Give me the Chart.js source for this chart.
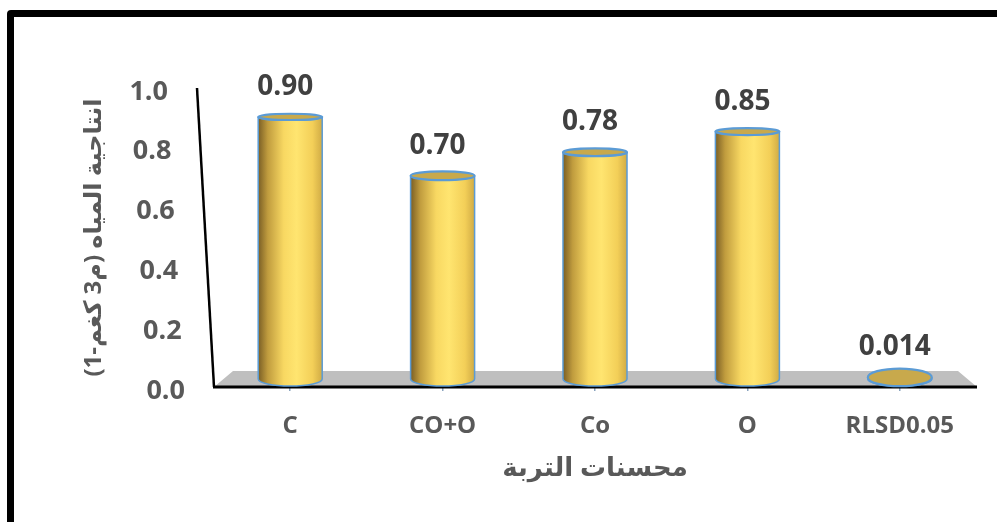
<!DOCTYPE html>
<html><head><meta charset="utf-8">
<script src="https://cdn.jsdelivr.net/npm/chart.js@4/dist/chart.umd.min.js"></script>
<style>
html,body{margin:0;padding:0;background:#fff;overflow:hidden}
#frame{position:absolute;left:7px;top:10px;width:1100px;height:700px;border:7px solid #000;border-radius:4px;box-sizing:border-box}
#wrap{position:absolute;left:0;top:0;width:997px;height:522px}
</style></head><body>
<div id="frame"></div>
<div id="wrap"><canvas id="c" width="997" height="522"></canvas></div>
<script>
const categories = ['C', 'CO+O', 'Co', 'O', 'RLSD0.05'];
const values = [0.90, 0.70, 0.78, 0.85, 0.014];
const yTicks = [0, 0.2, 0.4, 0.6, 0.8, 1.0];
const yTitle = 'انتاجية المياه (م3 كغم-1)';
const xTitle = 'محسنات التربة';

const FONT = "'Open Sans', 'DejaVu Sans', sans-serif";
const SLANT = 17;

function fmt(v) { return v >= 0.1 ? v.toFixed(2) : v.toFixed(3); }

const cylPlugin = {
  id: 'cyl',
  beforeDatasetsDraw(chart) {
    const ctx = chart.ctx;
    const { left, right, top, bottom } = chart.chartArea;
    const ys = chart.scales.y;
    ctx.save();
    ctx.fillStyle = '#bfbfbf';
    ctx.beginPath();
    ctx.moveTo(left, bottom);
    ctx.lineTo(right + 1, bottom);
    ctx.lineTo(right - 18, bottom - 16);
    ctx.lineTo(left + 19, bottom - 16);
    ctx.closePath();
    ctx.fill();
    ctx.strokeStyle = '#000';
    ctx.lineWidth = 3;
    ctx.beginPath();
    ctx.moveTo(left - 1, bottom);
    ctx.lineTo(right + 1, bottom);
    ctx.stroke();
    ctx.lineWidth = 2.5;
    ctx.beginPath();
    ctx.moveTo(left - SLANT, top);
    ctx.lineTo(left, bottom);
    ctx.stroke();
    ctx.fillStyle = '#595959';
    ctx.font = 'bold 27px ' + FONT;
    ctx.textAlign = 'right';
    ctx.textBaseline = 'middle';
    ys.ticks.forEach(t => {
      const py = ys.getPixelForValue(t.value);
      const ax = left - SLANT * (bottom - py) / (bottom - top);
      ctx.fillText(t.value.toFixed(1), ax - 29, py + 4);
    });
    ctx.restore();
  },
  afterDatasetsDraw(chart) {
    const ctx = chart.ctx;
    const { top, bottom } = chart.chartArea;
    const meta = chart.getDatasetMeta(0);
    ctx.save();
    meta.data.forEach((bar, i) => {
      const x = bar.x, y = bar.y, base = bar.base;
      const rx = bar.width / 2;
      const cyTop = y - 5.5 + 0.0167 * (base - y);
      const cyBot = Math.max(base - 8, cyTop);
      const ryTop = 2.5 + 6.5 * (cyTop - top) / (bottom - top);
      const ryBot = 7;
      const g = ctx.createLinearGradient(x - rx, 0, x + rx, 0);
      g.addColorStop(0, '#7a5e25');
      g.addColorStop(0.15, '#c09c3e');
      g.addColorStop(0.4, '#f8d862');
      g.addColorStop(0.6, '#ffe570');
      g.addColorStop(0.85, '#f3cf58');
      g.addColorStop(1, '#d0ab45');
      ctx.beginPath();
      ctx.moveTo(x - rx, cyTop);
      ctx.lineTo(x - rx, cyBot);
      ctx.ellipse(x, cyBot, rx, ryBot, 0, Math.PI, 0, true);
      ctx.lineTo(x + rx, cyTop);
      ctx.ellipse(x, cyTop, rx, ryTop, 0, 0, Math.PI, false);
      ctx.closePath();
      ctx.fillStyle = g;
      ctx.fill();
      ctx.strokeStyle = '#5b9bd5';
      ctx.lineWidth = 1.5;
      ctx.stroke();
      ctx.beginPath();
      ctx.ellipse(x, cyTop, rx, ryTop, 0, 0, Math.PI * 2);
      ctx.fillStyle = '#c8a94c';
      ctx.fill();
      ctx.lineWidth = 2.2;
      ctx.strokeStyle = '#5b9bd5';
      ctx.stroke();
      ctx.fillStyle = '#404040';
      ctx.font = 'bold 28px ' + FONT;
      ctx.textAlign = 'center';
      ctx.textBaseline = 'middle';
      ctx.fillText(fmt(values[i]), x - 5, cyTop - 30);
    });
    ctx.restore();
  }
};

new Chart(document.getElementById('c'), {
  type: 'bar',
  data: {
    labels: categories,
    datasets: [{
      data: values,
      backgroundColor: 'rgba(0,0,0,0)',
      borderWidth: 0,
      categoryPercentage: 1,
      barPercentage: 0.42
    }]
  },
  options: {
    responsive: false,
    devicePixelRatio: 1,
    animation: false,
    layout: { padding: { left: 80, right: 21, top: 88, bottom: 38 } },
    plugins: { legend: { display: false }, tooltip: { enabled: false } },
    scales: {
      x: {
        grid: { display: true, drawOnChartArea: false, drawTicks: true, tickLength: 4, offset: false, color: '#8aa4bf', lineWidth: 1.5 },
        border: { display: false },
        ticks: { color: '#595959', font: { family: FONT, size: 24, weight: 'bold' }, padding: 21, maxRotation: 0 },
        title: { display: true, text: xTitle, color: '#595959', font: { family: FONT, size: 26, weight: 'bold' }, padding: { top: 2, bottom: 0 } },
        afterFit(scale) { scale.height = 97; }
      },
      y: {
        min: 0, max: 1,
        afterBuildTicks(scale) { scale.ticks = yTicks.map(v => ({ value: v })); },
        grid: { display: false },
        border: { display: false },
        ticks: { display: false },
        title: { display: true, text: yTitle, color: '#595959', font: { family: FONT, size: 24, weight: 'bold' }, padding: { top: 0, bottom: 0 } },
        afterFit(scale) { scale.width = 214 - 80; }
      }
    }
  },
  plugins: [cylPlugin]
});
</script>
</body></html>
